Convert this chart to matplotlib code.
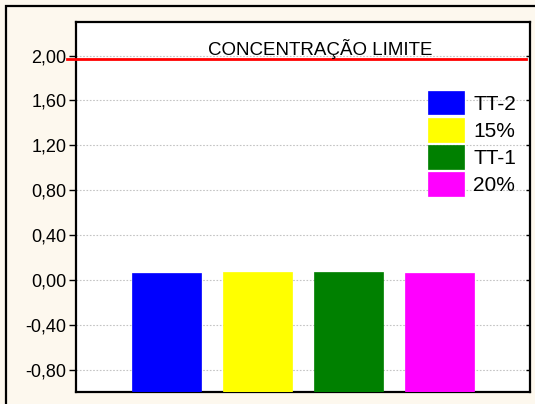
import matplotlib
matplotlib.use("Agg")
import matplotlib.pyplot as plt
from matplotlib.patches import Rectangle
from matplotlib.ticker import FuncFormatter

# data
categories = ["TT-2", "15%", "TT-1", "20%"]
values = [0.065, 0.066, 0.071, 0.058]
colors = ["#0000ff", "#ffff00", "#008000", "#ff00ff"]
limit_value = 1.97
limit_label = "CONCENTRAÇÃO LIMITE"
yticks = [-0.80, -0.40, 0.00, 0.40, 0.80, 1.20, 1.60, 2.00]

plt.rcParams['font.family'] = ['Liberation Sans', 'DejaVu Sans']
BG = "#fdf8ee"

fig = plt.figure(figsize=(5.35, 4.04), dpi=100, facecolor=BG)
# outer frame (only top and left edges fall inside the picture)
fig.add_artist(Rectangle((6/535, -0.1), 1.5, (404-6)/404 + 0.1, transform=fig.transFigure,
                         fill=False, ec="black", lw=1.6))

ax = fig.add_axes([76/535, 12/404, 454/535, 370/404])
ax.set_facecolor("white")

ymin, ymax = -1.0, 2.3
xs = list(range(1, len(values) + 1))
bars = ax.bar(xs, [v - ymin for v in values], bottom=ymin, width=0.76,
              color=colors, edgecolor=colors, lw=0.5, zorder=3, label=categories)

ax.set_xlim(0, 5)
ax.set_ylim(ymin, ymax)
ax.set_xticks([])
ax.set_yticks(yticks)
ax.yaxis.set_major_formatter(FuncFormatter(lambda v, p: f"{v:.2f}".replace(".", ",")))
ax.tick_params(axis='y', direction='out', length=5, width=1, labelsize=13, pad=2)
ax.grid(axis='y', ls=(0, (1.5, 1.5)), color="#c4c4c4", lw=0.8, zorder=1)
for s in ax.spines.values():
    s.set_linewidth(1.6)
    s.set_color("black")

# inward ticks on the right side
ax2 = ax.twinx()
ax2.set_ylim(ymin, ymax)
ax2.set_yticks(yticks)
ax2.tick_params(axis='y', direction='in', length=3, width=1, labelright=False)
for s in ax2.spines.values():
    s.set_visible(False)

# limit line: starts a little left of the axis
ax2.plot([-0.02, 0.991], [limit_value, limit_value], color="#ff0000", lw=2,
         transform=ax2.get_yaxis_transform(), clip_on=False, zorder=5)
ax2.text(0.537, 2.005, limit_label, transform=ax2.get_yaxis_transform(), ha='center',
         va='baseline', fontsize=13.5, zorder=6)

ax2.legend(handles=bars.patches, labels=categories, loc='upper left',
           bbox_to_anchor=((428-76)/454, (392-91)/370), frameon=False, fontsize=15,
           handlelength=1.73, handleheight=1.35, handletextpad=0.45, labelspacing=0.18,
           borderpad=0, borderaxespad=0)

fig.savefig("out.png", dpi=100, facecolor=BG)
